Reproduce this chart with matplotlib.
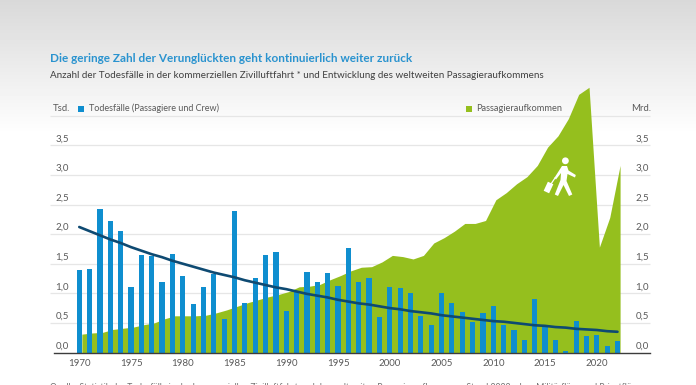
import numpy as np
import matplotlib
matplotlib.use("Agg")
from matplotlib import pyplot as plt
from matplotlib.patches import Circle, Rectangle, Polygon

plt.rcParams['font.family'] = ['Lato', 'DejaVu Sans']

years = np.arange(1970, 2023)
# Todesfaelle in Tsd.
deaths = [1.39, 1.41, 2.42, 2.22, 2.05, 1.11, 1.64, 1.63, 1.19, 1.67,
          1.29, 0.82, 1.10, 1.32, 0.57, 2.39, 0.84, 1.26, 1.64, 1.70,
          0.70, 1.02, 1.36, 1.19, 1.35, 1.12, 1.77, 1.19, 1.26, 0.60,
          1.10, 1.09, 1.00, 0.61, 0.47, 1.00, 0.84, 0.68, 0.51, 0.66,
          0.78, 0.46, 0.38, 0.21, 0.91, 0.43, 0.21, 0.02, 0.54, 0.28,
          0.30, 0.11, 0.19]
# Passagiere in Mrd.
passengers = [0.31, 0.33, 0.34, 0.39, 0.41, 0.43, 0.47, 0.50, 0.57, 0.62,
              0.62, 0.62, 0.63, 0.67, 0.72, 0.78, 0.84, 0.89, 0.94, 0.98,
              1.03, 1.11, 1.12, 1.15, 1.23, 1.30, 1.38, 1.44, 1.45, 1.53,
              1.64, 1.62, 1.58, 1.64, 1.85, 1.94, 2.05, 2.18, 2.18, 2.23,
              2.58, 2.70, 2.85, 2.97, 3.16, 3.47, 3.66, 3.95, 4.36, 4.48,
              1.78, 2.28, 3.16]
# Trendlinie
trend = [2.12, 2.05, 1.98, 1.91, 1.85, 1.78, 1.72, 1.66, 1.61, 1.55,
         1.50, 1.45, 1.40, 1.35, 1.31, 1.27, 1.22, 1.18, 1.14, 1.10,
         1.07, 1.03, 0.99, 0.96, 0.93, 0.89, 0.86, 0.83, 0.81, 0.78,
         0.75, 0.73, 0.70, 0.68, 0.66, 0.63, 0.61, 0.59, 0.57, 0.55,
         0.53, 0.52, 0.50, 0.48, 0.46, 0.45, 0.43, 0.42, 0.40, 0.39,
         0.38, 0.36, 0.35]
grid_values = [0.5, 1.0, 1.5, 2.0, 2.5, 3.0, 3.5, 4.0]
value_labels = ['0,0', '0,5', '1,0', '1,5', '2,0', '2,5', '3,0', '3,5']
year_ticks = [1970, 1975, 1980, 1985, 1990, 1995, 2000, 2005, 2010, 2015, 2020]

title = 'Die geringe Zahl der Verunglückten geht kontinuierlich weiter zurück'
subtitle = ('Anzahl der Todesfälle in der kommerziellen Zivilluftfahrt * und '
            'Entwicklung des weltweiten Passagieraufkommens')

BLUE = '#0f8ecf'
GREEN = '#95bf1e'
DARK = '#0e4a72'
GREY = '#5a5a5a'
W, H = 696, 385

fig = plt.figure(figsize=(W / 100, H / 100), dpi=100)

# background, grey fading to white
bg = fig.add_axes([0, 0, 1, 1], zorder=0)
shade = np.ones(H)
shade[:135] = np.linspace(0.85, 1.0, 135)
bg.imshow(shade[:, None], cmap='gray', vmin=0, vmax=1, aspect='auto')
bg.axis('off')

# chart axes, 59.2 px per unit
y_top = 4.6
bottom = 352.5
height = y_top * 59.2
ax = fig.add_axes([54 / W, 1 - bottom / H, 596 / W, height / H], zorder=1)
ax.patch.set_alpha(0)
ax.set_xlim(1967.56, 2025.14)
ax.set_ylim(0, y_top)

ax.hlines(grid_values, 1967.2, 2025.14, color='#e6e6e6', lw=0.9, zorder=1, clip_on=False)
ax.fill_between(years + 0.25, passengers, 0, color=GREEN, lw=0, zorder=2)
ax.bar(years, deaths, width=0.5, color=BLUE, zorder=3)
ax.plot(years, trend, color=DARK, lw=1.9, zorder=4, solid_capstyle='round')

for s in ['top', 'left', 'right']:
    ax.spines[s].set_visible(False)
ax.spines['bottom'].set_color('#3c3c3c')
ax.spines['bottom'].set_linewidth(1.0)
ax.spines['bottom'].set_zorder(5)
ax.set_yticks([])
ax.set_xticks(year_ticks)
ax.set_xticklabels([str(y) for y in year_ticks], fontsize=7.0, color=GREY)
ax.tick_params(axis='x', length=0, pad=5)

for i, lab in enumerate(value_labels):
    ax.text(1967.7, i * 0.5 + 0.035, lab, fontsize=7.0, color=GREY, ha='left', va='bottom')
    ax.text(2025.05, i * 0.5 + 0.035, lab, fontsize=7.0, color=GREY, ha='right', va='bottom')

# overlay in pixel coordinates for texts and icon
top = fig.add_axes([0, 0, 1, 1], zorder=2)
top.set_xlim(0, W)
top.set_ylim(H, 0)
top.axis('off')

top.text(50, 59, title, fontsize=8.45, fontweight='bold', color='#2a93cf', va='center')
top.text(50, 75, subtitle, fontsize=7.08, color='#404040', va='center')
top.text(53, 108.5, 'Tsd.', fontsize=6.9, color=GREY, va='center')
top.text(651, 108.5, 'Mrd.', fontsize=6.9, color=GREY, va='center', ha='right')
top.add_patch(Rectangle((78, 105.5), 6, 6, color=BLUE, lw=0))
top.text(89, 108.5, 'Todesfälle (Passagiere und Crew)', fontsize=6.5, color=GREY, va='center')
top.add_patch(Rectangle((466, 105.5), 6, 6, color=GREEN, lw=0))
top.text(476, 108.5, 'Passagieraufkommen', fontsize=6.7, color=GREY, va='center')

# footnote, cut off by the lower picture edge
top.text(50, 383, 'Quelle: Statistik der Todesfälle in der kommerziellen Zivilluftfahrt '
         'und des weltweiten Passagieraufkommens, Stand 2022, ohne Militärflüge und Privatflüge',
         fontsize=6.2, color='#707070', va='top', clip_on=True)

# passenger icon
top.add_patch(Circle((565.4, 160.8), 3.4, color='white', lw=0, zorder=6))
top.add_patch(Polygon([(562, 166), (567, 166), (568.5, 170.5), (575.8, 175), (575, 177.5),
                       (567.5, 174), (566.5, 181), (572.3, 194.5), (569, 196), (563.5, 185),
                       (558, 196), (554.8, 194.5), (560.5, 180), (561, 173), (556, 179.5),
                       (554.3, 178)], closed=True, color='white', lw=0, zorder=6))
top.plot([555, 551], [178, 184], color='white', lw=0.9, zorder=6)
box = Rectangle((-3, -5), 6, 10, color='white', lw=0, zorder=6)
box.set_transform(matplotlib.transforms.Affine2D().rotate_deg(25).translate(548.5, 187.5) + top.transData)
top.add_patch(box)

fig.savefig('out.png', dpi=100)
